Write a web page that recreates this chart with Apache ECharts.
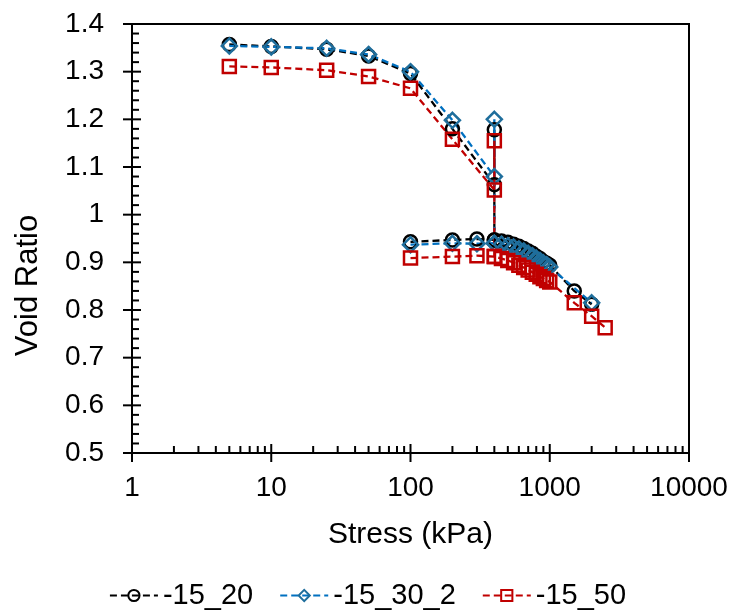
<!DOCTYPE html>
<html>
<head>
<meta charset="utf-8">
<script src="https://cdn.jsdelivr.net/npm/echarts@6/dist/echarts.min.js"></script>
<style>html,body{margin:0;padding:0;background:#fff}#c{width:735px;height:610px}</style>
</head>
<body>
<div id="c"></div>
<script>
// ---- data ----
const seriesNames = ['-15_20', '-15_30_2', '-15_50'];

const s1Stress = [5, 10, 25, 50, 100, 200, 400, 400, 400, 450, 500, 550, 600, 650, 700, 750, 800, 850, 900, 950, 1000, 1500, 2000];
const s1Void   = [1.357, 1.353, 1.347, 1.333, 1.296, 1.180, 1.063, 1.178, 0.947, 0.945, 0.942, 0.938, 0.934, 0.929, 0.924, 0.919, 0.913, 0.908, 0.902, 0.898, 0.894, 0.840, 0.812];
const s1bStress = [100, 200, 300, 400];
const s1bVoid   = [0.943, 0.947, 0.949, 0.947];

const s2Stress = [5, 10, 25, 50, 100, 200, 400, 400, 400, 450, 500, 550, 600, 650, 700, 750, 800, 850, 900, 950, 1000, 2000];
const s2Void   = [1.354, 1.352, 1.349, 1.336, 1.300, 1.198, 1.080, 1.200, 0.940, 0.938, 0.935, 0.932, 0.928, 0.924, 0.919, 0.914, 0.909, 0.904, 0.899, 0.895, 0.890, 0.815];
const s2bStress = [100, 200, 300, 400];
const s2bVoid   = [0.937, 0.940, 0.939, 0.940];

const s3Stress = [5, 10, 25, 50, 100, 200, 400, 400, 400, 450, 500, 550, 600, 650, 700, 750, 800, 850, 900, 950, 1000, 1500, 2000, 2500];
const s3Void   = [1.311, 1.309, 1.303, 1.290, 1.265, 1.158, 1.052, 1.155, 0.912, 0.908, 0.904, 0.899, 0.894, 0.889, 0.884, 0.879, 0.875, 0.870, 0.866, 0.862, 0.859, 0.815, 0.787, 0.763];
const s3bStress = [100, 200, 300, 400];
const s3bVoid   = [0.909, 0.912, 0.914, 0.912];

// tick values
const xMajorTicks = [1, 10, 100, 1000, 10000];
const xMinorTicks = [2, 3, 4, 5, 6, 7, 8, 9, 20, 30, 40, 50, 60, 70, 80, 90, 200, 300, 400, 500, 600, 700, 800, 900, 2000, 3000, 4000, 5000, 6000, 7000, 8000, 9000];
const yMajorTicks = [0.5, 0.6, 0.7, 0.8, 0.9, 1.0, 1.1, 1.2, 1.3, 1.4];
const yMinorTicks = [0.52, 0.54, 0.56, 0.58, 0.62, 0.64, 0.66, 0.68, 0.72, 0.74, 0.76, 0.78, 0.82, 0.84, 0.86, 0.88, 0.92, 0.94, 0.96, 0.98, 1.02, 1.04, 1.06, 1.08, 1.12, 1.14, 1.16, 1.18, 1.22, 1.24, 1.26, 1.28, 1.32, 1.34, 1.36, 1.38];

const X_MIN = 1, X_MAX = 10000, Y_MIN = 0.5, Y_MAX = 1.4;
const FONT = '"Liberation Sans", Arial, sans-serif';

function pairs(xs, ys) { return xs.map((x, i) => [x, ys[i]]); }

const styles = [
  { color: '#000000', border: '#000000', symbol: 'circle', size: 13 },
  { color: '#0070C0', border: '#1F6E9C', symbol: 'diamond', size: 15 },
  { color: '#C00000', border: '#C00000', symbol: 'rect', size: 13 }
];

function lineSeries(name, data, st, inLegend) {
  return {
    name: inLegend ? name : name + ' ',
    type: 'line',
    data: data,
    symbol: st.symbol,
    symbolSize: st.size,
    showAllSymbol: true,
    lineStyle: { color: st.color, width: 2.3, type: [7, 4] },
    itemStyle: { color: 'rgba(0,0,0,0)', borderColor: st.border, borderWidth: 2.5 },
    emphasis: { disabled: true },
    animation: false,
    z: 3
  };
}

function tickSeries(values, axis, len, cross) {
  return {
    type: 'custom',
    silent: true,
    clip: false,
    animation: false,
    z: 5,
    data: values.map(v => axis === 'x' ? [v, Y_MIN] : [X_MIN, v]),
    renderItem: function (params, api) {
      const p = api.coord([api.value(0), api.value(1)]);
      let shape;
      if (axis === 'x') {
        shape = { x1: p[0], y1: p[1] + (cross ? len : 0), x2: p[0], y2: p[1] - len };
      } else {
        shape = { x1: p[0] - (cross ? len : 0), y1: p[1], x2: p[0] + len, y2: p[1] };
      }
      return { type: 'line', shape: shape, style: { stroke: '#000', lineWidth: 2 } };
    }
  };
}

const chart = echarts.init(document.getElementById('c'), null, { renderer: 'canvas' });
chart.setOption({
  backgroundColor: '#ffffff',
  animation: false,
  grid: { left: 132, right: 46, top: 24, bottom: 157, show: true, borderColor: '#000', borderWidth: 2, backgroundColor: 'transparent' },
  xAxis: {
    type: 'log', logBase: 10, min: X_MIN, max: X_MAX,
    name: 'Stress (kPa)', nameLocation: 'middle', nameGap: 67,
    nameTextStyle: { fontFamily: FONT, fontSize: 30, color: '#000' },
    axisLine: { lineStyle: { color: '#000', width: 2 } },
    axisTick: { show: false },
    minorTick: { show: false },
    splitLine: { show: false },
    axisLabel: { fontFamily: FONT, fontSize: 28, color: '#000', margin: 21, formatter: v => String(v) }
  },
  yAxis: {
    type: 'value', min: Y_MIN, max: Y_MAX, interval: 0.1,
    name: 'Void Ratio', nameLocation: 'middle', nameGap: 88,
    nameTextStyle: { fontFamily: FONT, fontSize: 31, color: '#000', padding: [0, 94, 0, 0] },
    axisLine: { lineStyle: { color: '#000', width: 2 } },
    axisTick: { show: false },
    splitLine: { show: false },
    axisLabel: { fontFamily: FONT, fontSize: 28, color: '#000', margin: 28 }
  },
  legend: {
    data: seriesNames,
    top: 576, left: 'center',
    itemWidth: 48, itemHeight: 14, itemGap: 26,
    textStyle: { fontFamily: FONT, fontSize: 29, color: '#000' }
  },
  series: [
    lineSeries(seriesNames[0], pairs(s1Stress, s1Void), styles[0], true),
    lineSeries(seriesNames[0], pairs(s1bStress, s1bVoid), styles[0], false),
    lineSeries(seriesNames[1], pairs(s2Stress, s2Void), styles[1], true),
    lineSeries(seriesNames[1], pairs(s2bStress, s2bVoid), styles[1], false),
    lineSeries(seriesNames[2], pairs(s3Stress, s3Void), styles[2], true),
    lineSeries(seriesNames[2], pairs(s3bStress, s3bVoid), styles[2], false),
    tickSeries(xMajorTicks, 'x', 9, true),
    tickSeries(xMinorTicks, 'x', 7, false),
    tickSeries(yMajorTicks, 'y', 9, true),
    tickSeries(yMinorTicks, 'y', 7, false)
  ]
});
</script>
</body>
</html>
